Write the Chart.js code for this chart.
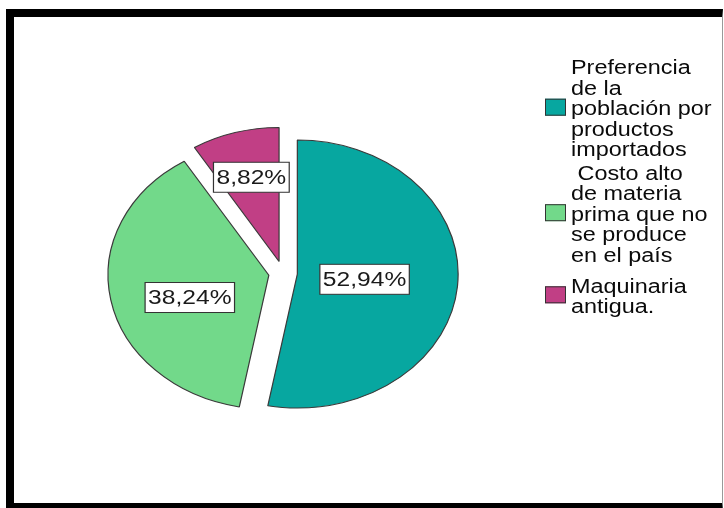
<!DOCTYPE html>
<html>
<head>
<meta charset="utf-8">
<script src="https://cdn.jsdelivr.net/npm/chart.js@4.4.1/dist/chart.umd.min.js"></script>
<style>
    html, body { margin: 0; padding: 0; background: #fff; }
    #frame {
        position: absolute; left: 6px; top: 9px; width: 717px; height: 502px;
        box-sizing: border-box;
        border-left: 8px solid #000; border-top: 8px solid #000; border-bottom: 8px solid #000;
        border-right: 1px solid #999;
    }
    #wrap { position: absolute; left: 0; top: 0; width: 724px; height: 508px; }
</style>
</head>
<body>
<div id="frame"></div>
<div id="wrap"><canvas id="pieChart"></canvas></div>
<script>
// datos del gráfico
const categories = [
    'Preferencia de la población por productos importados',
    'Costo alto de materia prima que no se produce en el país',
    'Maquinaria antigua.'
];
const legendLines = [
    ['Preferencia', 'de la', 'población por', 'productos', 'importados'],
    [' Costo alto', 'de materia', 'prima que no', 'se produce', 'en el país'],
    ['Maquinaria', 'antigua.']
];
const percentages = [52.94, 38.24, 8.82];

const sliceColors = ['#07a7a0', '#72d98a', '#c13f85'];
const STRETCH = 1.2;      // la imagen original está estirada en horizontal
const EXPLODE = 12;       // separación de cada porción
const FONT = '"Liberation Sans", Arial, sans-serif';

// dibuja cada porción separada y estirada (elipse)
const explodePlugin = {
    id: 'explode',
    beforeDatasetDraw(chart, args) {
        const ctx = chart.ctx;
        args.meta.data.forEach(function (arc) {
            const mid = (arc.startAngle + arc.endAngle) / 2;
            ctx.save();
            ctx.translate(arc.x, arc.y);
            ctx.scale(STRETCH, 1);
            ctx.translate(Math.cos(mid) * EXPLODE, Math.sin(mid) * EXPLODE);
            ctx.translate(-arc.x, -arc.y);
            arc.draw(ctx);
            ctx.restore();
        });
        return false;
    }
};

// etiquetas de porcentaje en cajas blancas
const boxLabelPlugin = {
    id: 'boxLabels',
    afterDatasetsDraw(chart, args, opts) {
        const ctx = chart.ctx;
        const meta = chart.getDatasetMeta(0);
        meta.data.forEach(function (arc, i) {
            const mid = (arc.startAngle + arc.endAngle) / 2;
            const r = EXPLODE + arc.outerRadius * opts.radius[i];
            const x = arc.x + STRETCH * Math.cos(mid) * r;
            const y = arc.y + Math.sin(mid) * r + opts.nudgeY[i];
            const text = percentages[i].toFixed(2).replace('.', ',') + '%';
            ctx.save();
            ctx.translate(x, y);
            ctx.scale(STRETCH, 1);
            ctx.font = '20.5px ' + FONT;
            const w = ctx.measureText(text).width + 5;
            const h = 30;
            ctx.fillStyle = '#fff';
            ctx.fillRect(-w / 2, -h / 2, w, h);
            ctx.lineWidth = 1;
            ctx.strokeStyle = '#333';
            ctx.strokeRect(-w / 2, -h / 2, w, h);
            ctx.fillStyle = '#1a1a1a';
            ctx.textAlign = 'center';
            ctx.textBaseline = 'middle';
            ctx.fillText(text, 0, 1);
            ctx.restore();
        });
    }
};

// leyenda a la derecha, con texto en varias líneas
const sideLegendPlugin = {
    id: 'sideLegend',
    afterDraw(chart, args, opts) {
        const ctx = chart.ctx;
        let y = opts.top;
        legendLines.forEach(function (lines, i) {
            const first = y;
            ctx.save();
            ctx.font = '19.5px ' + FONT;
            ctx.fillStyle = '#0a0a0a';
            ctx.textBaseline = 'alphabetic';
            lines.forEach(function (line, k) {
                ctx.save();
                ctx.translate(opts.textX, y);
                ctx.scale(STRETCH, 1);
                ctx.fillText(line, 0, 0);
                ctx.restore();
                if (k < lines.length - 1) y += opts.lineHeight;
            });
            const centre = (first - 13 + y) / 2 - 2;
            ctx.fillStyle = sliceColors[i];
            ctx.fillRect(opts.boxX, centre - 8, 21, 17);
            ctx.strokeStyle = '#333';
            ctx.lineWidth = 1;
            ctx.strokeRect(opts.boxX + 0.5, centre - 7.5, 20, 16);
            ctx.restore();
            y += opts.lineHeight + opts.gaps[i];
        });
    }
};

const ctx = document.getElementById('pieChart').getContext('2d');
new Chart(ctx, {
    type: 'pie',
    data: {
        labels: categories,
        datasets: [{
            data: percentages,
            backgroundColor: sliceColors,
            borderColor: '#3a3a3a',
            borderWidth: 1
        }]
    },
    options: {
        responsive: true,
        maintainAspectRatio: false,
        animation: false,
        radius: 134,
        layout: { padding: { left: 1, right: 159, top: 38, bottom: 0 } },
        plugins: {
            legend: { display: false },
            tooltip: { enabled: false },
            boxLabels: { radius: [0.42, 0.5, 0.63], nudgeY: [0, 10, -3] },
            sideLegend: { top: 74, textX: 571, boxX: 545, lineHeight: 20.6, gaps: [2.5, 10, 0] }
        }
    },
    plugins: [explodePlugin, boxLabelPlugin, sideLegendPlugin]
});
</script>
</body>
</html>
